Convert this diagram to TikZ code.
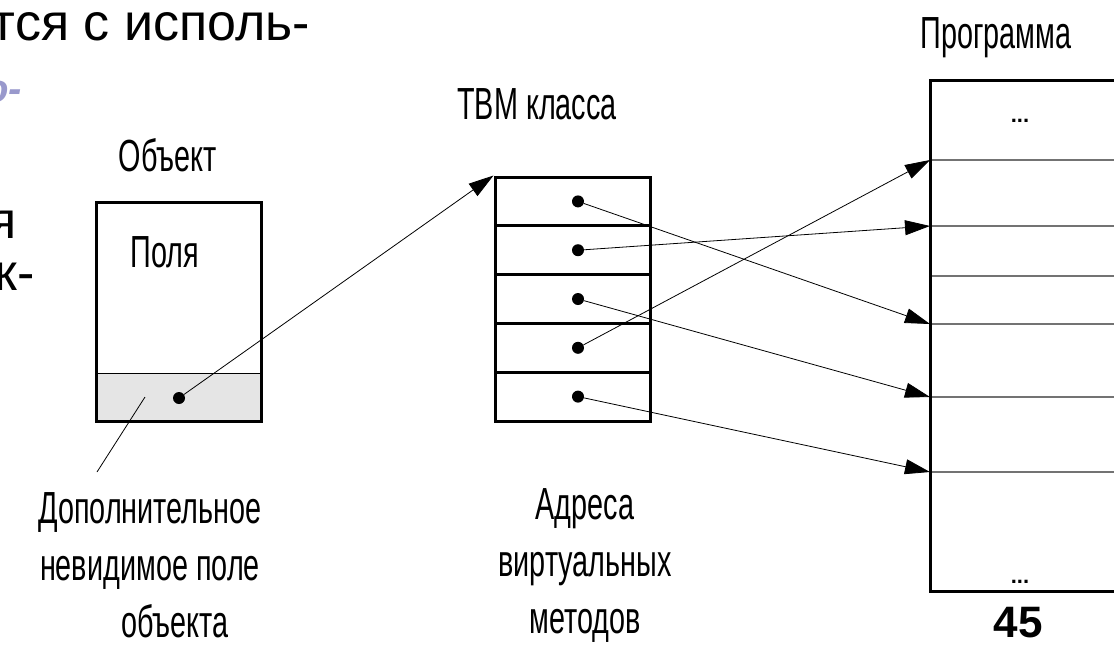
\documentclass[tikz,border=0pt]{standalone}
\usepackage{fontspec}
\setmainfont{Liberation Sans}
\newfontfamily\narrowsans{Liberation Sans}[FakeStretch=0.64]
\usetikzlibrary{arrows.meta}
\colorlet{hiddenField}{gray!20}
\definecolor{slideAccent}{HTML}{9999CC}
\tikzset{
  every cell/.style={draw,line width=3pt,inner sep=0pt},
  slot dot/.style={circle,fill,inner sep=0pt,minimum size=12pt},
  caption text/.style={font=\narrowsans\fontsize{45}{57}\selectfont,align=center,inner sep=0pt},
}

\begin{document}
\begin{tikzpicture}[
  x=1pt,y=-1pt,
  cell/.style={every cell,minimum width=155pt,minimum height=48.8pt},
  vmt pointer/.style={line width=0.8pt,-{Triangle[length=25pt,width=15pt]}},
  code line/.style={line width=1.2pt,draw=black!55},
  slide text/.style={font=\fontsize{52}{60}\selectfont,inner sep=0pt,anchor=base east},
]
\useasboundingbox (0,0) rectangle (1114,646);
\clip (0,0) rectangle (1114,646);

\node[slide text] (slide1) at (310,40) {тся с исполь-};
\node[slide text,text=slideAccent,font=\bfseries\itshape\fontsize{40}{48}\selectfont] (slide2) at (22,102) {о-};
\node[slide text] (slide3) at (17,238) {я};
\node[slide text] (slide4) at (35,290) {к-};

% object
\node[draw,fill=hiddenField,line width=0.8pt,minimum width=165pt,minimum height=48pt,inner sep=0pt] (hidden) at (178.5,397) {};
\node[every cell,minimum width=165pt,minimum height=219pt] (obj) at (178.5,311.5) {};
\node[slot dot] (objptr) at (179,398) {};
\node[caption text] (objname) at (168,155) {Объект};
\node[caption text] (fields) at (165,252) {Поля};

% table of virtual methods
\foreach \i in {1,...,5} {
  \node[cell] (row\i) at (572.5,{177+48.8*(\i-0.5)}) {};
  \node[slot dot] (addr\i) at (578,{177+48.8*(\i-0.5)}) {};
}
\node[caption text] (vmtname) at (537,104) {ТВМ класса};

% program
\foreach[count=\j] \y in {160,226,276,324,397,472} {
  \coordinate (entry\j) at (930,\y);
  \draw[code line] (entry\j) -- ++(200,0);
}
\node[every cell,minimum width=200pt,minimum height=511pt] (prog) at (1030,335.5) {};
\node[caption text] (progname) at (996,38) {Программа};
\node[font=\bfseries\fontsize{22}{24}\selectfont,anchor=base,inner sep=0pt] (gapTop) at (1020,122) {...};
\node[font=\bfseries\fontsize{22}{24}\selectfont,anchor=base,inner sep=0pt] (gapBottom) at (1020,583) {...};
\node[font=\bfseries\fontsize{44}{48}\selectfont] (page) at (1018,623) {45};

\draw[vmt pointer] (objptr) -- (row1.north west);
\foreach \i/\j in {1/4,2/2,3/5,4/1,5/6}
  \draw[vmt pointer] (addr\i) -- (entry\j);

\coordinate (hiddenTip) at (145,397);
\coordinate (leaderEnd) at (97,472);
\draw[line width=0.8pt] (hiddenTip) -- (leaderEnd);

\node[caption text] (hiddenNote) at (150,565) {Дополнительное\\невидимое поле\\\hspace*{50pt}объекта};
\node[caption text] (addrNote) at (585,565) {Адреса\\виртуальных\\методов};
\end{tikzpicture}
\end{document}
